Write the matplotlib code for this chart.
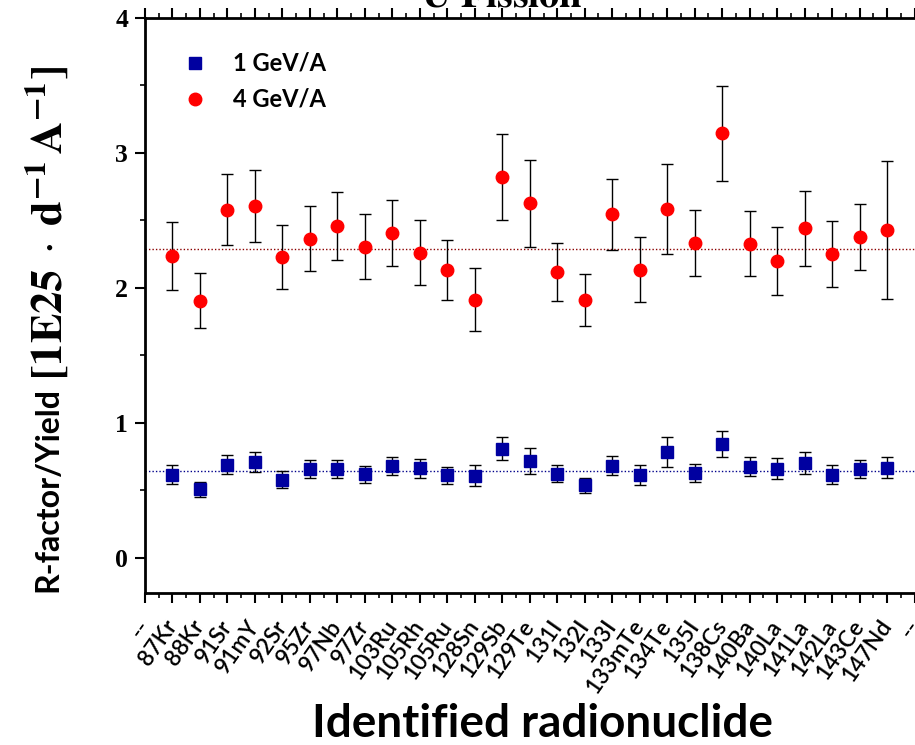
import matplotlib
matplotlib.use("Agg")
import matplotlib.pyplot as plt
from matplotlib.ticker import MultipleLocator
from matplotlib.lines import Line2D
import numpy as np

plt.rcParams["mathtext.fontset"] = "stix"

categories = ["--", "87Kr", "88Kr", "91Sr", "91mY", "92Sr", "95Zr", "97Nb", "97Zr",
              "103Ru", "105Rh", "105Ru", "128Sn", "129Sb", "129Te", "131I", "132I",
              "133I", "133mTe", "134Te", "135I", "138Cs", "140Ba", "140La", "141La",
              "142La", "143Ce", "147Nd", "--"]
nuclides = categories[1:-1]

val_1gev = [0.617, 0.509, 0.691, 0.711, 0.580, 0.657, 0.659, 0.620, 0.681, 0.664,
            0.612, 0.610, 0.810, 0.718, 0.622, 0.538, 0.684, 0.612, 0.785, 0.632,
            0.847, 0.677, 0.662, 0.704, 0.617, 0.659, 0.669]
err_1gev = [0.068, 0.055, 0.070, 0.072, 0.063, 0.068, 0.064, 0.063, 0.070, 0.069,
            0.064, 0.078, 0.084, 0.096, 0.063, 0.056, 0.070, 0.073, 0.108, 0.067,
            0.096, 0.068, 0.075, 0.079, 0.069, 0.067, 0.077]
val_4gev = [2.237, 1.906, 2.578, 2.605, 2.230, 2.365, 2.459, 2.306, 2.405, 2.262,
            2.133, 1.914, 2.820, 2.627, 2.119, 1.911, 2.546, 2.136, 2.585, 2.333,
            3.146, 2.328, 2.202, 2.442, 2.252, 2.378, 2.427]
err_4gev = [0.250, 0.203, 0.263, 0.266, 0.237, 0.243, 0.250, 0.239, 0.245, 0.238,
            0.224, 0.232, 0.320, 0.320, 0.215, 0.195, 0.262, 0.240, 0.335, 0.241,
            0.350, 0.243, 0.252, 0.276, 0.242, 0.242, 0.512]
mean_1gev = 0.644
mean_4gev = 2.292

W, H = 915, 745
fig = plt.figure(figsize=(W/100, H/100), dpi=100)
ax = fig.add_axes([145/W, 1-593/H, 1-145/W+0.001, (593-18)/H])

x = np.arange(1, len(nuclides)+1)

ax.axhline(mean_4gev, color="#8B0000", linestyle=(0, (1, 1.5)), lw=1.0, zorder=1)
ax.axhline(mean_1gev, color="#00008B", linestyle=(0, (1, 1.5)), lw=1.0, zorder=1)

ax.errorbar(x, val_1gev, yerr=err_1gev, fmt="s", color="#0000A0", ms=8,
            mec="#0000A0", ecolor="black", elinewidth=1.0, capsize=4, capthick=1.0,
            zorder=3)
ax.errorbar(x, val_4gev, yerr=err_4gev, fmt="o", color="#FF0000", ms=9,
            mec="#FF0000", ecolor="black", elinewidth=1.0, capsize=4, capthick=1.0,
            zorder=3)

ax.set_xlim(0, 28.05)
ax.set_ylim(-0.26, 4.0)

ax.set_xticks(np.arange(len(categories)))
ax.set_xticklabels(categories, rotation=55, ha="right", va="center",
                   rotation_mode="anchor", fontsize=16.5, family="Lato",
                   fontweight="semibold")
ax.xaxis.set_minor_locator(MultipleLocator(0.5))
ax.yaxis.set_major_locator(MultipleLocator(1))
ax.yaxis.set_minor_locator(MultipleLocator(0.5))
for lbl in ax.get_yticklabels():
    lbl.set_family("Liberation Serif")
    lbl.set_fontweight("bold")
    lbl.set_fontsize(18.5)

ax.tick_params(axis="both", which="major", direction="out", length=7, width=1.5)
ax.tick_params(axis="both", which="minor", direction="out", length=3.5, width=1.2)
ax.tick_params(axis="x", which="major", pad=14)
ax.tick_params(axis="x", which="both", top=True)
ax.tick_params(axis="y", pad=5)

for s in ["left", "bottom", "top"]:
    ax.spines[s].set_linewidth(2.0)
ax.spines["right"].set_visible(False)

# y label: sans part + serif part
fig.text(48/W, 1-592/H, "R-factor/Yield", rotation=90, rotation_mode="anchor",
         ha="left", va="center", fontsize=23, fontweight="bold", family="Lato")
fig.text(48/W, 1-380/H, r"$\mathbf{[1E25}\;\cdot\;\mathbf{d^{-1}\,A^{-1}]}$",
         rotation=90, rotation_mode="anchor", ha="left", va="center", fontsize=32)

fig.text(543/W, 1-737/H, "Identified radionuclide", ha="center", va="baseline",
         fontsize=33, fontweight="bold", family="Lato")
fig.text(583/W, 1-7/H, r"$\mathbf{^{238}U\ Fission}$", ha="right", va="baseline",
         fontsize=29)

handles = [Line2D([], [], ls="none", marker="s", ms=8, color="#0000A0"),
           Line2D([], [], ls="none", marker="o", ms=9, color="#FF0000")]
leg = ax.legend(handles, ["1 GeV/A", "4 GeV/A"], loc="upper left",
                bbox_to_anchor=(0.022, 0.978), frameon=False,
                prop={"family": "Lato", "weight": "bold", "size": 17},
                handletextpad=1.1, labelspacing=0.55, numpoints=1, handlelength=1.0)

fig.savefig("out.png", dpi=100)
